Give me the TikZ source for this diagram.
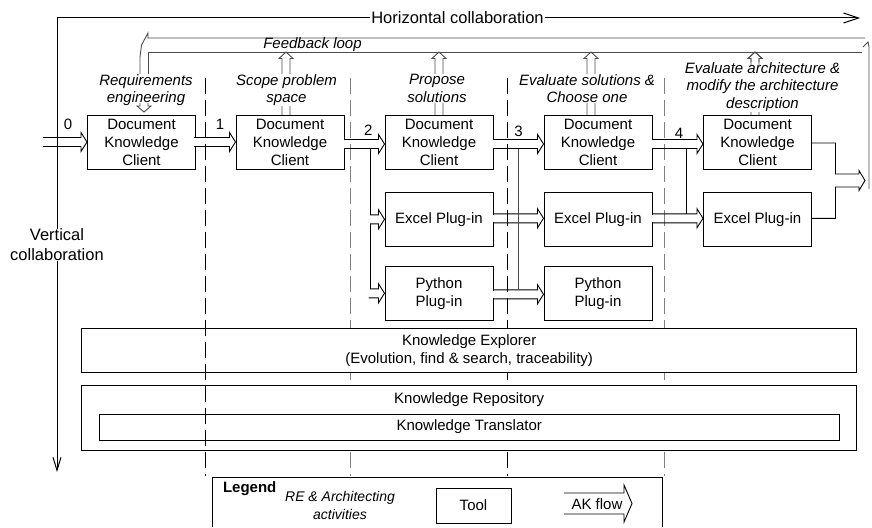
\documentclass[tikz,border=0pt]{standalone}
\usepackage{fontspec}
\setmainfont{Liberation Sans}
\usetikzlibrary{calc,arrows.meta}
\newcommand\fsn{\fontsize{15}{17.7}\selectfont}
\newcommand\fsi{\fontsize{15}{17.7}\selectfont\itshape}
\newcommand\fsb{\fontsize{16.5}{19.8}\selectfont}
\newcommand\fsl{\fontsize{14}{17.3}\selectfont\itshape}
\definecolor{dg}{gray}{0.3}
\tikzset{
  box/.style={draw,fill=white,minimum width=108pt,minimum height=54pt,inner sep=0pt,align=center,font=\fsn},
  lab/.style={font=\fsi,align=center,fill=white,inner sep=0.5pt},
  txt/.style={inner sep=0pt,font=\fsn},
  conn/.style={draw,line width=0.9pt},
  fbc/.style={draw,line width=0.9pt,color=dg},
  sepk/.style={draw,line width=1pt,dash pattern=on 16pt off 6pt},
  hhead/.style 2 args={insert path={-- ($(#1.west)+(-6,#2-4.5)$) -- ($(#1.west)+(-6,#2-9.5)$) -- ($(#1.west)+(0,#2)$) -- ($(#1.west)+(-6,#2+9.5)$) -- ($(#1.west)+(-6,#2+4.5)$)}}
}
\newcommand\upstub[2]{%
  \draw[fbc] ($(#1)+(-4,0)$) -- ($(#2)+(-4,6.5)$) -- ($(#2)+(-7,6.5)$) -- (#2) -- ($(#2)+(7,6.5)$) -- ($(#2)+(4,6.5)$) -- ($(#1)+(4,0)$);}
\begin{document}
\begin{tikzpicture}[x=1pt,y=-1pt,line width=1pt]
\useasboundingbox (0,0) rectangle (872,527);

% separators behind the boxes
\draw[sepk,color=gray] (350,78) -- (350,476);
\draw[sepk] (507,78) -- (507,476);
\draw[sepk,color=gray] (664,78) -- (664,476);

% collaboration axes
\coordinate (cc) at (57,18);
\coordinate (ch) at (860,18);
\coordinate (cv) at (57,472);
\draw[line width=1pt,{Straight Barb[length=13pt,width=8pt]}-{Straight Barb[length=15pt,width=10pt]}] (cv) -- (cc) -- (ch);
\node[fill=white,inner xsep=1pt,inner ysep=0pt,font=\fsb] (hc) at (457.5,18) {Horizontal collaboration};
\node[fill=white,inner sep=0pt,font=\fsb,align=center] (vc) at (57,245) {Vertical\\collaboration};

% feedback loop
\coordinate (fbin) at (148,52);
\draw[fbc] (865,38) -- (148,38) -- (148,33) -- (141.5,45) -- (140,57) -- (140,104);
\draw[fbc] (148,104) -- (fbin) -- (862,52);
\draw[fbc] (863,47) -- (868,42) -- (869,47) -- (869,189);
\node[font=\fsi,inner sep=0pt] (fbl) at (312.5,45) {Feedback loop};

% tool boxes
\node[box] (d1) at (141.5,142.5) {Document\\Knowledge\\Client};
\node[box] (d2) at (290,142.5) {Document\\Knowledge\\Client};
\node[box] (d3) at (439,142.5) {Document\\Knowledge\\Client};
\node[box] (d4) at (598,142.5) {Document\\Knowledge\\Client};
\node[box] (d5) at (757.5,142.5) {Document\\Knowledge\\Client};
\node[box] (e3) at (439,219.3) {Excel Plug-in};
\node[box] (e4) at (598,219.3) {Excel Plug-in};
\node[box] (e5) at (757.5,219.3) {Excel Plug-in};
\node[box] (p3) at (439,293.3) {Python\\Plug-in};
\node[box] (p4) at (598,293.3) {Python\\Plug-in};
\node[draw,fill=white,minimum width=775pt,minimum height=44pt,align=center,font=\fsn,inner sep=0pt] (ke) at (469.2,350.3) {Knowledge Explorer\\(Evolution, find \& search, traceability)};
\node[draw,fill=white,minimum width=775pt,minimum height=65pt] (kr) at (469.2,417.5) {};
\node[txt] (krt) at (469.2,400) {Knowledge Repository};
\node[draw,fill=white,minimum width=740pt,minimum height=26pt,font=\fsn,inner sep=0pt] (kt) at (469.2,427) {Knowledge Translator};

% up stubs into the feedback loop
\coordinate (u2b) at ($(d2.north)+(-4,0)$); \coordinate (u2t) at (u2b |- fbin); \upstub{u2b}{u2t}
\coordinate (u3b) at (d3.north); \coordinate (u3t) at (u3b |- fbin); \upstub{u3b}{u3t}
\coordinate (u4b) at ($(d4.north)+(-7,0)$); \coordinate (u4t) at (u4b |- fbin); \upstub{u4b}{u4t}
\coordinate (u5b) at ($(d5.north)+(-2.5,0)$); \coordinate (u5t) at (u5b |- fbin); \upstub{u5b}{u5t}

% AK flow arrows
\coordinate (in0) at (43,142);
\draw[conn] ($(in0)+(0,-4.5)$) [hhead={d1}{-0.5}] -- ($(in0)+(0,4.5)$);

\fill[white] ($(d1.east)+(-1.5,-4.3)$) rectangle ($(d1.east)+(1.5,3.3)$);
\draw[conn] ($(d1.east)+(-2,-5)$) [hhead={d2}{-0.5}] -- ($(d1.east)+(-2,4)$);

\fill[white] ($(d2.east)+(-1.5,-2.3)$) rectangle ($(d2.east)+(1.5,5.3)$);
\draw[conn] ($(d2.east)+(0,-3)$) [hhead={d3}{1.5}] -- ($(d2.east)+(0,6)$);
\coordinate (b2) at ($(d2.east)+(26,6)$);
\coordinate (e3u) at ($(e3.west)+(0,-4.5)$);
\coordinate (e3l) at ($(e3.west)+(0,4.5)$);
\coordinate (p3u) at ($(p3.west)+(0,-4.5)$);
\coordinate (p3s) at ($(p3.west)+(-16,4.5)$);
\draw[conn] (b2) -- (b2 |- e3u) [hhead={e3}{0}] -- (b2 |- e3l) -- (b2 |- p3u) [hhead={p3}{0}] -- (p3s);

\fill[white] ($(d3.east)+(-1.5,-2.3)$) rectangle ($(d3.east)+(1.5,5.3)$);
\draw[conn] ($(d3.east)+(0,-3)$) [hhead={d4}{1.5}] -- ($(d3.east)+(0,6)$);
\fill[white] ($(e3.east)+(-1.5,-4.8)$) rectangle ($(e3.east)+(1.5,2.8)$);
\draw[conn] ($(e3.east)+(0,-5.5)$) [hhead={e4}{-1}] -- ($(e3.east)+(0,3.5)$);
\fill[white] ($(p3.east)+(-1.5,-2.8)$) rectangle ($(p3.east)+(1.5,4.8)$);
\draw[conn] ($(p3.east)+(0,-3.5)$) [hhead={p4}{1}] -- ($(p3.east)+(0,5.5)$);
\coordinate (b3) at ($(d3.east)+(25,6)$);
\coordinate (p4u) at ($(p4.west)+(0,-3.5)$);
\draw[conn,color=dg] (b3) -- (b3 |- p4u);

\fill[white] ($(d4.east)+(-1.5,-2.3)$) rectangle ($(d4.east)+(1.5,5.3)$);
\draw[conn] ($(d4.east)+(0,-3)$) [hhead={d5}{1.5}] -- ($(d4.east)+(0,6)$);
\fill[white] ($(e4.east)+(-1.5,-4.8)$) rectangle ($(e4.east)+(1.5,2.8)$);
\draw[conn] ($(e4.east)+(0,-5.5)$) [hhead={e5}{-1}] -- ($(e4.east)+(0,3.5)$);
\coordinate (b4) at ($(d4.east)+(34,6)$);
\coordinate (e5u) at ($(e5.west)+(0,-5.5)$);
\draw[conn] (b4) -- (b4 |- e5u);

% outputs of the last column
\coordinate (outt) at (865,180.5);
\draw[conn] ($(d5.east)+(0,0.5)$) -- ++(23.5,0) |- ($(outt)+(-6,-6.5)$) -- ($(outt)+(-6,-10)$) -- (outt) -- ($(outt)+(-6,10)$) -- ($(outt)+(-6,6.5)$) -| ($(e5.east)+(23.5,-1)$) -- ($(e5.east)+(0,-1)$);

% activity labels
\node[lab] (l1) at (146,90) {Requirements\\engineering};
\node[lab] (l2) at (286.5,90) {Scope problem\\space};
\node[lab] (l3) at (437,88.5) {Propose\\solutions};
\node[lab] (l4) at (587,88.5) {Evaluate solutions \&\\Choose one};
\node[lab] (l5) at (762.5,87) {Evaluate architecture \&\\modify the architecture\\description};

% stub parts drawn over the labels
\draw[fbc] (140,103) -- (140,106) -- (137,106) -- (144,112) -- (151,106) -- (148,106) -- (148,103);
\draw[fbc] ($(u5t)+(-4,13)$) -- ($(u5t)+(-4,6.5)$) -- ($(u5t)+(-7,6.5)$) -- (u5t) -- ($(u5t)+(7,6.5)$) -- ($(u5t)+(4,6.5)$) -- ($(u5t)+(4,13)$);

% separator drawn over the lower boxes
\draw[sepk] (205,78) -- (205,476);

% step numbers
\node[txt] (n0) at (68,124) {0};
\node[txt] (n1) at (220,124) {1};
\node[txt] (n2) at (368.3,130) {2};
\node[txt] (n3) at (518.5,131.5) {3};
\node[txt] (n4) at (679,133) {4};

% legend
\coordinate (lg1) at (212,527);
\coordinate (lg2) at (212,477);
\coordinate (lg3) at (662,477);
\coordinate (lg4) at (662,527);
\draw[line width=1pt] (lg1) -- (lg2) -- (lg3) -- (lg4);
\node[txt,font=\fsn\bfseries,anchor=west] (lgt) at (222.5,489) {Legend};
\node[inner sep=0pt,font=\fsl,align=center] (lga) at (340,505.5) {RE \& Architecting\\activities};
\node[draw,minimum width=75pt,minimum height=35pt,font=\fsn,inner sep=0pt] (tool) at (473.5,505.5) {Tool};
\coordinate (aks) at (564,503.5);
\coordinate (akt) at (632,503.5);
\draw[conn] ($(aks)+(0,-10.5)$) -- ($(akt)+(-8,-10.5)$) -- ($(akt)+(-8,-18.5)$) -- (akt) -- ($(akt)+(-8,18.5)$) -- ($(akt)+(-8,10.5)$) -- ($(aks)+(0,10.5)$);
\node[txt] (akl) at (597,504) {AK flow};
\end{tikzpicture}
\end{document}
